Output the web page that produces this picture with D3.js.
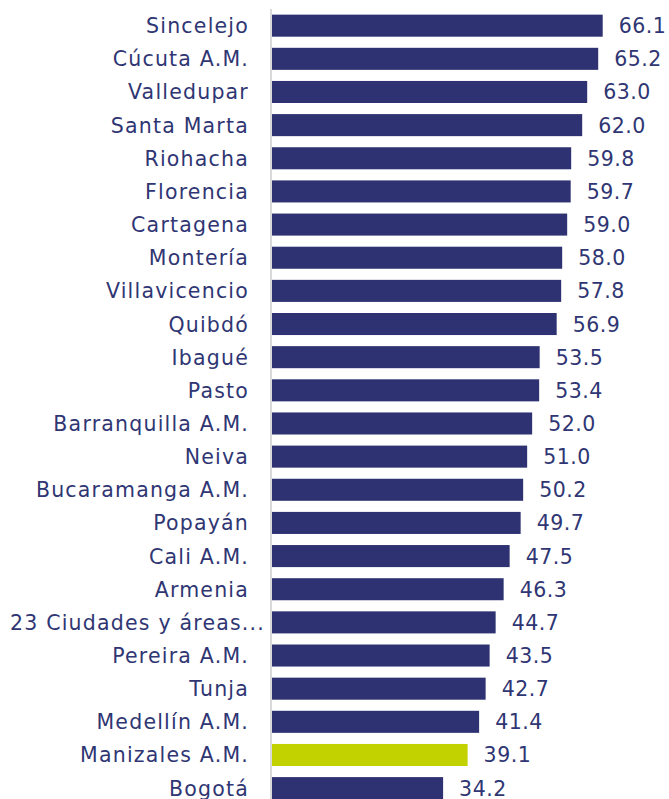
<html>
<head>
<meta charset="utf-8">
<script src="https://d3js.org/d3.v7.min.js"></script>
<style>
  html, body { margin:0; padding:0; background:#ffffff; }
  svg { display:block; }
</style>
</head>
<body>
<svg class="svg"></svg>
<script>

// data
const cities = ["Sincelejo","Cúcuta A.M.","Valledupar","Santa Marta","Riohacha","Florencia",
  "Cartagena","Montería","Villavicencio","Quibdó","Ibagué","Pasto","Barranquilla A.M.",
  "Neiva","Bucaramanga A.M.","Popayán","Cali A.M.","Armenia","23 Ciudades y áreas...",
  "Pereira A.M.","Tunja","Medellín A.M.","Manizales A.M.","Bogotá"]
const values = [66.1,65.2,63.0,62.0,59.8,59.7,59.0,58.0,57.8,56.9,53.5,53.4,52.0,
  51.0,50.2,49.7,47.5,46.3,44.7,43.5,42.7,41.4,39.1,34.2]
const highlight = ["Manizales A.M."]

const W = 669, H = 799
const x0 = 272

const svg = d3.select("svg")
  .attr("width", W)
  .attr("height", H)

const data = cities.map((c,i) => ({city:c, value:values[i]}))

const xScale = d3.scaleLinear()
  .domain([0, 66.1])
  .range([x0, 602.7])

const yScale = d3.scaleBand()
  .domain(cities)
  .range([9.1, 9.1 + 24*33.15])
  .paddingInner(0.335)
  .paddingOuter(0.1675)

const navy = "#2e3272"
const txt = "#2f3673"
const font = "'DejaVu Sans', sans-serif"

// bars
svg.append("g")
  .selectAll("rect")
  .data(data)
  .enter().append("rect")
    .attr("x", xScale(0))
    .attr("y", d => yScale(d.city))
    .attr("width", d => xScale(d.value) - xScale(0))
    .attr("height", yScale.bandwidth())
    .attr("fill", d => highlight.includes(d.city) ? "#c2d100" : navy)

// axis line
svg.append("line")
  .attr("x1", x0 - 1).attr("x2", x0 - 1)
  .attr("y1", 9).attr("y2", H)
  .attr("stroke", "#d9d9d9")
  .attr("stroke-width", 2)

// category labels
svg.append("g")
  .selectAll("text")
  .data(data)
  .enter().append("text")
    .attr("x", d => d.city.endsWith("...") ? 265 : 249)
    .attr("y", d => yScale(d.city) + yScale.bandwidth()/2 + 7.5)
    .attr("text-anchor", "end")
    .style("font-family", font)
    .style("font-size", "20.5px")
    .style("letter-spacing", "1.2px")
    .style("fill", txt)
    .text(d => d.city)

// value labels
svg.append("g")
  .selectAll("text")
  .data(data)
  .enter().append("text")
    .attr("x", d => xScale(d.value) + 16)
    .attr("y", d => yScale(d.city) + yScale.bandwidth()/2 + 7.5)
    .attr("text-anchor", "start")
    .style("font-family", font)
    .style("font-size", "20.5px")
    .style("letter-spacing", "0.5px")
    .style("fill", txt)
    .text(d => d3.format(".1f")(d.value))

</script>
</body>
</html>
